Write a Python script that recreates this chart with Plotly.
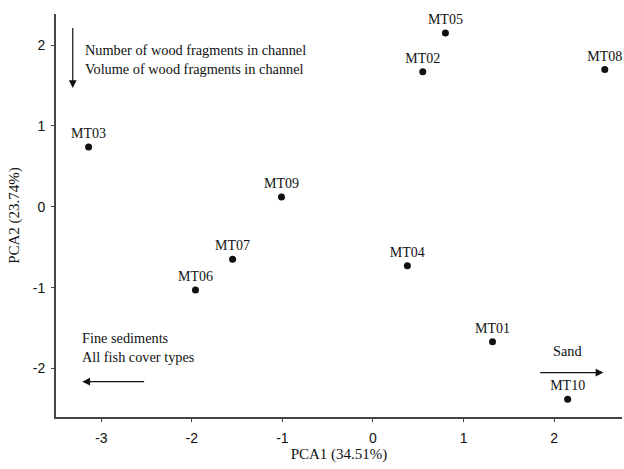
import plotly.graph_objects as go

sites = ["MT01", "MT02", "MT03", "MT04", "MT05", "MT06", "MT07", "MT08", "MT09", "MT10"]
pca1 = [1.32, 0.55, -3.14, 0.38, 0.80, -1.96, -1.55, 2.56, -1.01, 2.15]
pca2 = [-1.67, 1.67, 0.74, -0.73, 2.15, -1.03, -0.65, 1.70, 0.12, -2.38]

x_ticks = [-3, -2, -1, 0, 1, 2]
x_labels = ["-3", "-2", "-1", "0", "1", "2"]
y_ticks = [-2, -1, 0, 1, 2]
y_labels = ["-2", "-1", "0", "1", "2"]

serif = "Liberation Serif, Times New Roman, serif"
sans = "Liberation Sans, Arial, sans-serif"

fig = go.Figure()
fig.add_trace(go.Scatter(
    x=pca1, y=pca2, mode="markers+text", text=sites,
    textposition="top center",
    textfont=dict(family=serif, size=14, color="#111"),
    marker=dict(size=7, color="#111"),
    showlegend=False, cliponaxis=False, hoverinfo="skip",
))

arrow = dict(showarrow=True, arrowhead=2, arrowsize=1.3, arrowwidth=1.2,
             arrowcolor="#111", axref="x", ayref="y", text="")
anns = [
    dict(x=-3.315, y=1.47, ax=-3.315, ay=2.23, **arrow),
    dict(x=-3.21, y=-2.163, ax=-2.51, ay=-2.163, **arrow),
    dict(x=2.545, y=-2.05, ax=1.83, ay=-2.05, **arrow),
    dict(x=-3.2, y=1.82, xanchor="left", yanchor="middle", showarrow=False,
         text="Number of wood fragments in channel<br>Volume of wood fragments in channel",
         align="left", font=dict(family=serif, size=14.3, color="#111")),
    dict(x=-3.23, y=-1.735, xanchor="left", yanchor="middle", showarrow=False,
         text="Fine sediments<br>All fish cover types",
         align="left", font=dict(family=serif, size=14.3, color="#111")),
    dict(x=2.144, y=-1.783, xanchor="center", yanchor="middle", showarrow=False,
         text="Sand", font=dict(family=serif, size=14.3, color="#111")),
]

fig.update_layout(
    width=624, height=469,
    margin=dict(l=56, r=2, t=14, b=52),
    paper_bgcolor="white", plot_bgcolor="white",
    annotations=anns,
    xaxis=dict(range=[-3.5, 2.75], tickvals=x_ticks, ticktext=x_labels,
               showgrid=False, zeroline=False, automargin=False,
               showline=True, linecolor="#444", linewidth=2, ticks="outside",
               ticklen=3, tickcolor="#444", ticklabelstandoff=4,
               tickfont=dict(family=sans, size=14, color="#111"),
               title=dict(text="PCA1 (34.51%)", font=dict(family=serif, size=15, color="#111"),
                          standoff=4)),
    yaxis=dict(range=[-2.6, 2.385], tickvals=y_ticks, ticktext=y_labels,
               showgrid=False, zeroline=False, automargin=False,
               showline=True, linecolor="#444", linewidth=2, ticks="outside",
               ticklen=3, tickcolor="#444", ticklabelstandoff=3,
               tickfont=dict(family=sans, size=14, color="#111"),
               title=dict(text="PCA2 (23.74%)", font=dict(family=serif, size=15, color="#111"),
                          standoff=9)),
)

# remove the browser's default 8px body margin so the 624x469 figure fills the window
fig.write_html(
    "out.html",
    config={"displayModeBar": False},
    post_script="document.body.style.margin='0';"
                "document.documentElement.style.overflow='hidden';",
)
